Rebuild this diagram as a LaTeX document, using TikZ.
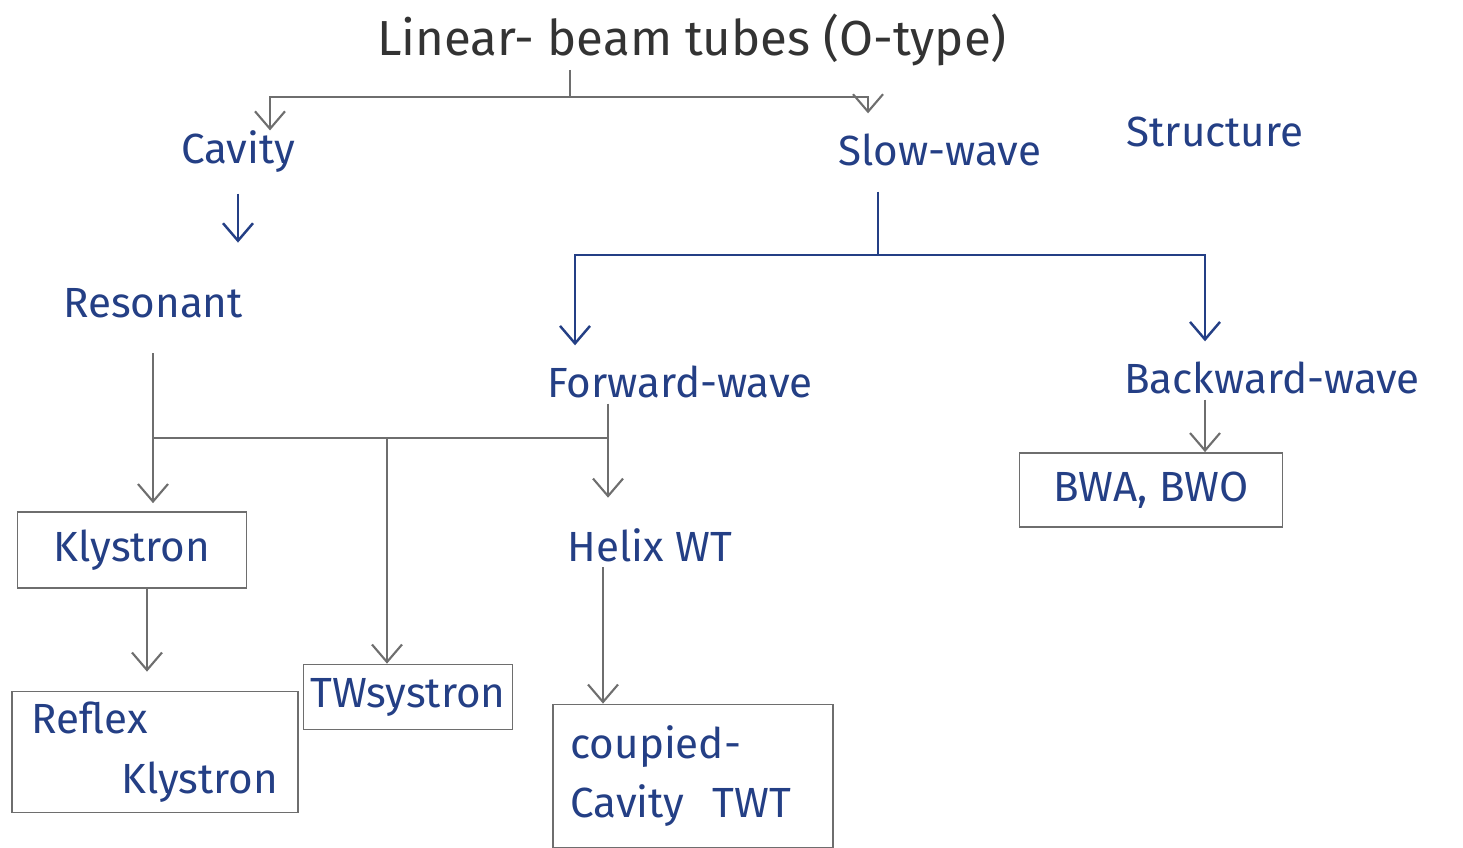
\documentclass[tikz,border=0pt]{standalone}
\usepackage{fontspec}
\setmainfont{Fira Sans}
\usetikzlibrary{arrows.meta}
\definecolor{ink}{HTML}{243F85}
\definecolor{pencil}{HTML}{6E6E6E}
\begin{document}
\begin{tikzpicture}[x=0.02cm, y=-0.02cm, >={Straight Barb[length=3.5mm,width=6mm]}, every node/.style={font=\fontsize{24}{34}\selectfont}]
    \tikzstyle{heading} = [text=black!80, inner sep=2pt, font=\fontsize{28}{34}\selectfont]
    \tikzstyle{branch} = [text=ink, inner sep=3pt]
    \tikzstyle{tube} = [rectangle, draw=pencil, line width=1pt, text=ink, align=left, inner sep=4pt]
    \tikzstyle{pen} = [draw=ink, line width=1.4pt]
    \tikzstyle{lead} = [draw=pencil, line width=1.2pt]

    \useasboundingbox (0,0) rectangle (1463,848);

    % Main heading and first split
    \node [heading] (linear) at (692,40) {Linear- beam tubes (O-type)};
    \node [branch] (cavity) at (238,152) {Cavity};
    \node [branch] (slow) at (940,150) {Slow-wave};
    \node [branch] (structure) at (1215,132) {Structure};

    % Cavity side
    \node [branch] (resonant) at (153,303) {Resonant};
    \node [tube, minimum width=4.58cm, minimum height=1.52cm] (klystron) at (132,550) {Klystron};
    \node [tube, minimum width=5.72cm, minimum height=2.42cm] (reflex) at (155,752) {Reflex\\\hspace*{1.8cm}Klystron};
    \node [tube, minimum width=4.14cm, minimum height=1.3cm] (twsystron) at (408,697) {TWsystron};

    % Slow-wave side
    \node [branch] (forward) at (680,382) {Forward-wave};
    \node [branch] (backward) at (1272,378) {Backward-wave};
    \node [branch] (helix) at (650,545) {Helix WT};
    \node [tube, minimum width=5.6cm, minimum height=2.86cm, text width=4.9cm] (coupled) at (693,776) {coupied-\\Cavity\ \ TWT};
    \node [tube, minimum width=5.26cm, minimum height=1.48cm] (bwa) at (1151,490) {BWA, BWO};

    % Split below the heading
    \coordinate (topsplit) at (570,97);
    \draw [lead] (linear.south -| topsplit) -- (topsplit);
    \draw [lead, ->] (topsplit) -| ([xshift=0.64cm, yshift=-0.1cm]cavity.north);
    \draw [lead, ->] (topsplit) -| ([xshift=-1.44cm, yshift=0.3cm]slow.north);
    \draw [pen, ->, shorten <=0.3cm, shorten >=0.8cm] (cavity.south) -- (cavity.south |- resonant.north);

    % Split below slow-wave
    \coordinate (slowsplit) at (878,255);
    \draw [pen, shorten <=0.4cm] (slowsplit |- slow.south) -- (slowsplit);
    \draw [pen, ->] (slowsplit) -| ([xshift=-2.1cm, yshift=0.3cm]forward.north);
    \draw [pen, ->] (slowsplit) -| ([xshift=-1.34cm, yshift=0.3cm]backward.north);
    \draw [lead, ->] ([xshift=-1.34cm]backward.south) -- ([xshift=-1.34cm]backward.south |- bwa.north);

    % Resonant and forward-wave lines meet
    \coordinate (merge) at (387,438);
    \coordinate (fwd) at ([xshift=-1.44cm]forward.south);
    \draw [lead] (resonant.south |- merge) -- (merge -| fwd);
    \draw [lead, ->, shorten <=0.6cm] (resonant.south) -- ([yshift=0.16cm]resonant.south |- klystron.north);
    \draw [lead, ->] (merge) -- (merge |- twsystron.north);
    \draw [lead, ->] (fwd) -- ([yshift=0.5cm]fwd |- helix.north);
    \draw [lead, ->] ([xshift=0.3cm]klystron.south) -- ([xshift=0.3cm, yshift=0.38cm]klystron.south |- reflex.north);
    \draw [lead, ->] ([xshift=-0.94cm]helix.south) -- ([xshift=-0.94cm]helix.south |- coupled.north);
\end{tikzpicture}
\end{document}
